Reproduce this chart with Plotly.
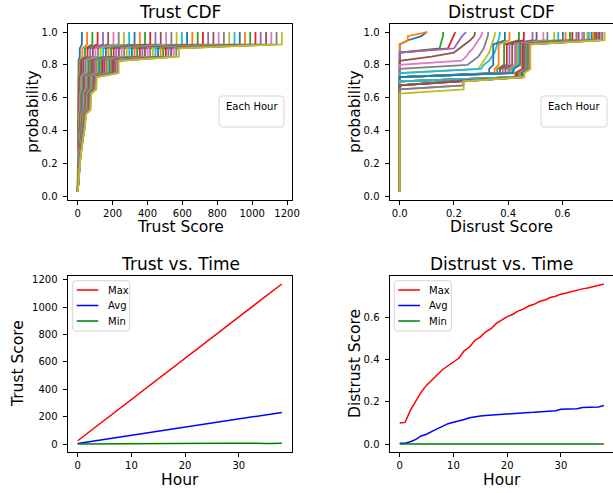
import plotly.graph_objects as go

# ---------------- data ----------------
hours = list(range(39))
n_nodes = 40
tab10 = ['#1f77b4', '#ff7f0e', '#2ca02c', '#d62728', '#9467bd',
         '#8c564b', '#e377c2', '#7f7f7f', '#bcbd22', '#17becf']

trust_max = [24, 54, 84, 114, 145, 175, 205, 235, 265, 295, 326, 356, 386, 416,
             446, 476, 507, 537, 567, 597, 627, 657, 688, 718, 748, 778, 808, 838,
             869, 899, 929, 959, 989, 1019, 1049, 1080, 1110, 1140, 1170]
trust_avg = [3, 9, 15, 21, 27, 33, 39, 45, 51, 57, 63, 69, 75, 81, 87, 93, 99, 105,
             111, 117, 123, 129, 135, 141, 147, 153, 159, 165, 171, 177, 183, 189,
             195, 201, 207, 213, 219, 225, 231]
trust_min = [0, 0, 0, 0, 0, 0, 0, 0, 0, 0.5, 1, 1, 1.5, 1.5, 2, 2, 2.5, 2.5, 3, 3,
             3.5, 3.5, 4, 4, 4.5, 5, 5, 5.5, 6, 6.5, 3, 3.5, 3.5, 4, 4, 4.5, 4.5, 5, 5]

# sorted trust values of the 40 nodes at the last hour;
# earlier hours have the same shape, stretched to that hour's max
trust_last_hour = [0, 2, 3, 4, 5, 6, 8, 10, 13, 17, 21, 25, 29, 33, 37, 40,
                   42, 44, 46, 48, 74, 75, 76, 77, 78, 106, 107, 108, 110,
                   235, 235, 235, 235, 580, 580, 580, 1170, 1170, 1170, 1170]

distrust_max = [0.099, 0.102, 0.16, 0.205, 0.245, 0.278, 0.305, 0.327, 0.352, 0.37,
                0.388, 0.405, 0.44, 0.458, 0.49, 0.505, 0.53, 0.545, 0.57, 0.585,
                0.602, 0.612, 0.628, 0.637, 0.652, 0.66, 0.673, 0.68, 0.692, 0.698,
                0.708, 0.713, 0.72, 0.726, 0.733, 0.737, 0.743, 0.748, 0.756]
distrust_avg = [0.003, 0.004, 0.011, 0.022, 0.038, 0.046, 0.06, 0.072, 0.084, 0.096,
                0.103, 0.108, 0.116, 0.124, 0.129, 0.132, 0.135, 0.137, 0.139, 0.141,
                0.144, 0.145, 0.147, 0.148, 0.149, 0.150, 0.152, 0.153, 0.155, 0.157,
                0.164, 0.165, 0.166, 0.167, 0.172, 0.173, 0.174, 0.175, 0.182]
distrust_min = [0.0] * 39

# per hour: (distrust value, number of nodes with it), sorted
distrust_runs = [
    [(0, 37), (0.031, 1), (0.08, 1), (0.099, 1)],
    [(0, 37), (0.03, 2), (0.102, 1)],
    [(0, 35), (0.147, 1), (0.15, 1), (0.155, 1), (0.16, 2)],
    [(0, 35), (0.178, 1), (0.185, 1), (0.19, 1), (0.2, 1), (0.205, 1)],
    [(0, 35), (0.2, 1), (0.21, 1), (0.22, 1), (0.23, 1), (0.245, 1)],
    [(0, 33), (0.117, 1), (0.2, 1), (0.22, 1), (0.24, 1), (0.26, 1), (0.275, 1), (0.278, 1)],
    [(0, 32), (0.228, 1), (0.245, 1), (0.255, 1), (0.27, 1), (0.28, 1), (0.29, 1), (0.3, 1), (0.305, 1)],
    [(0, 31), (0.25, 1), (0.27, 1), (0.29, 1), (0.3, 1), (0.31, 1), (0.315, 1), (0.32, 1), (0.325, 1), (0.327, 1)],
    [(0, 30), (0.29, 1), (0.3, 1), (0.31, 1), (0.32, 1), (0.33, 1), (0.335, 1), (0.34, 1), (0.345, 1), (0.35, 1), (0.352, 1)],
    [(0, 30), (0.3, 1), (0.31, 1), (0.33, 1), (0.34, 1), (0.35, 1), (0.355, 1), (0.36, 1), (0.365, 1), (0.368, 1), (0.37, 1)],
    [(0, 29), (0.33, 2), (0.345, 6), (0.388, 3)],
    [(0, 29), (0.35, 2), (0.365, 6), (0.405, 3)],
    [(0, 29), (0.36, 2), (0.385, 6), (0.44, 3)],
    [(0, 29), (0.37, 2), (0.395, 6), (0.458, 3)],
    [(0, 29), (0.38, 2), (0.405, 6), (0.49, 3)],
    [(0, 29), (0.39, 2), (0.415, 6), (0.505, 3)],
    [(0, 29), (0.40, 2), (0.425, 6), (0.53, 3)],
    [(0, 29), (0.405, 2), (0.43, 6), (0.545, 3)],
    [(0, 29), (0.41, 2), (0.435, 6), (0.57, 3)],
    [(0, 29), (0.415, 2), (0.44, 6), (0.585, 3)],
    [(0, 29), (0.42, 2), (0.445, 6), (0.602, 3)],
    [(0, 28), (0.425, 2), (0.45, 7), (0.612, 3)],
    [(0, 28), (0.43, 2), (0.455, 7), (0.628, 3)],
    [(0, 28), (0.43, 2), (0.455, 7), (0.637, 3)],
    [(0, 28), (0.435, 2), (0.46, 7), (0.652, 3)],
    [(0, 28), (0.435, 2), (0.46, 7), (0.66, 3)],
    [(0, 28), (0.44, 2), (0.465, 7), (0.673, 3)],
    [(0, 28), (0.44, 2), (0.465, 7), (0.68, 3)],
    [(0, 28), (0.445, 2), (0.47, 7), (0.692, 3)],
    [(0, 28), (0.445, 2), (0.47, 7), (0.698, 3)],
    [(0, 27), (0.19, 1), (0.45, 2), (0.472, 7), (0.708, 3)],
    [(0, 27), (0.2, 1), (0.45, 2), (0.474, 7), (0.713, 3)],
    [(0, 27), (0.21, 1), (0.452, 2), (0.475, 7), (0.72, 3)],
    [(0, 27), (0.22, 1), (0.452, 2), (0.476, 7), (0.726, 3)],
    [(0, 27), (0.22, 1), (0.455, 2), (0.477, 7), (0.733, 3)],
    [(0, 27), (0.23, 1), (0.455, 2), (0.478, 7), (0.737, 3)],
    [(0, 26), (0.233, 2), (0.458, 2), (0.479, 7), (0.743, 3)],
    [(0, 26), (0.235, 2), (0.458, 2), (0.48, 7), (0.748, 3)],
    [(0, 25), (0.236, 3), (0.46, 2), (0.482, 7), (0.756, 3)],
]

cdf_prob = [(k + 1) / n_nodes for k in range(n_nodes)]

series_names = ['Max', 'Avg', 'Min']
series_colors = ['red', 'blue', 'green']

# ---------------- layout helpers ----------------
W, H = 613, 493
def X(px):
    return px / W
def Y(py):
    return 1 - py / H

FONT = 'DejaVu Sans'
fig = go.Figure()

# Trust CDF
for h in hours:
    xs = [v * trust_max[h] / trust_max[-1] for v in trust_last_hour]
    fig.add_trace(go.Scatter(x=xs, y=cdf_prob, mode='lines',
                             line=dict(color=tab10[h % 10], width=1.8),
                             showlegend=False, xaxis='x', yaxis='y', hoverinfo='skip'))
# Distrust CDF
for h in hours:
    xs = []
    for val, cnt in distrust_runs[h]:
        xs += [val] * cnt
    fig.add_trace(go.Scatter(x=xs, y=cdf_prob, mode='lines',
                             line=dict(color=tab10[h % 10], width=1.8),
                             showlegend=False, xaxis='x2', yaxis='y2', hoverinfo='skip'))

for name, data, col in zip(series_names, [trust_max, trust_avg, trust_min], series_colors):
    fig.add_trace(go.Scatter(x=hours, y=data, mode='lines', name=name, showlegend=False,
                             line=dict(color=col, width=1.5), xaxis='x3', yaxis='y3'))
for name, data, col in zip(series_names, [distrust_max, distrust_avg, distrust_min], series_colors):
    fig.add_trace(go.Scatter(x=hours, y=data, mode='lines', name=name, showlegend=False,
                             line=dict(color=col, width=1.5), xaxis='x4', yaxis='y4'))

def axis(domain, rng, anchor, dtick, tickformat=None, is_y=False):
    d = dict(domain=domain, range=rng, anchor=anchor, showline=True, mirror=True,
             linecolor='black', linewidth=1, ticks='outside', ticklen=4, tickwidth=1,
             tickcolor='black', showgrid=False, zeroline=False, automargin=False,
             tickfont=dict(family=FONT, size=10, color='black'),
             dtick=dtick, tick0=0)
    if tickformat:
        d['tickformat'] = tickformat
    if is_y:
        d['ticklabelstandoff'] = 3
    return d

LX = [X(67.5), X(292)]
RX = [X(389.5), 1.0]
TY = [Y(200), Y(24)]
BY = [Y(452), Y(276)]

fig.update_layout(
    width=W, height=H, margin=dict(l=0, r=0, t=0, b=0),
    paper_bgcolor='white', plot_bgcolor='white', showlegend=False,
    font=dict(family=FONT, color='black'), hovermode=False,
    xaxis=axis(LX, [-58.5, 1228.5], 'y', 200),
    yaxis=axis(TY, [-0.024, 1.049], 'x', 0.2, '.1f', True),
    xaxis2=axis(RX, [-0.0378, 0.787], 'y2', 0.2, '.1f'),
    yaxis2=axis(TY, [-0.024, 1.049], 'x2', 0.2, '.1f', True),
    xaxis3=axis(LX, [-1.9, 39.9], 'y3', 10),
    yaxis3=axis(BY, [-58.5, 1228.5], 'x3', 200, None, True),
    xaxis4=axis(RX, [-1.9, 39.7], 'y4', 10),
    yaxis4=axis(BY, [-0.0378, 0.7938], 'x4', 0.2, '.1f', True),
)

def text(t, cx, cy, size, angle=0, anchor='center'):
    fig.add_annotation(text=t, x=X(cx), y=Y(cy), xref='paper', yref='paper',
                       xanchor=anchor, yanchor='middle', showarrow=False, textangle=angle,
                       font=dict(family=FONT, size=size, color='black'))

# subplot titles
text('Trust CDF', 180, 12, 17)
text('Distrust CDF', 501.5, 12, 17)
text('Trust vs. Time', 180, 264, 17)
text('Distrust vs. Time', 501.5, 264, 17)
# axis titles
text('Trust Score', 180, 227, 15.5)
text('Disrust Score', 501.5, 227, 15.5)
text('Hour', 180, 480, 15.5)
text('Hour', 501.5, 480, 15.5)
text('probability', 33, 112, 15.5, -90)
text('probability', 355, 112, 15.5, -90)
text('Trust Score', 18, 364, 15.5, -90)
text('Distrust Score', 355, 364, 15.5, -90)

def rounded(x0, y0, x1, y1, r=3):
    return (f"M {X(x0 + r)},{Y(y0)} L {X(x1 - r)},{Y(y0)} Q {X(x1)},{Y(y0)} {X(x1)},{Y(y0 + r)} "
            f"L {X(x1)},{Y(y1 - r)} Q {X(x1)},{Y(y1)} {X(x1 - r)},{Y(y1)} "
            f"L {X(x0 + r)},{Y(y1)} Q {X(x0)},{Y(y1)} {X(x0)},{Y(y1 - r)} "
            f"L {X(x0)},{Y(y0 + r)} Q {X(x0)},{Y(y0)} {X(x0 + r)},{Y(y0)} Z")

def box(x0, y0, x1, y1):
    fig.add_shape(type='path', path=rounded(x0, y0, x1, y1), xref='paper', yref='paper',
                  line=dict(color='#d5d5d5', width=1), fillcolor='rgba(255,255,255,0.8)')

# "Each Hour" legends (title only)
for bx0, bx1 in [(219, 284), (541, 607)]:
    box(bx0, 96, bx1, 127)
    text('Each Hour', (bx0 + bx1) / 2, 107, 10)

# Max / Avg / Min legends
for lx in [72.7, 394.3]:
    box(lx, 280.7, lx + 57, 331)
    for i, (name, col) in enumerate(zip(series_names, series_colors)):
        yy = 290 + 15.5 * i
        fig.add_shape(type='line', xref='paper', yref='paper',
                      x0=X(lx + 4), x1=X(lx + 25.6), y0=Y(yy), y1=Y(yy),
                      line=dict(color=col, width=1.5))
        text(name, lx + 33, yy, 10, anchor='left')

# the page's default 8px body margin would shift the chart; remove it
fig.write_html("out.html", config={'displayModeBar': False, 'staticPlot': True},
               post_script="document.body.style.margin='0';")
